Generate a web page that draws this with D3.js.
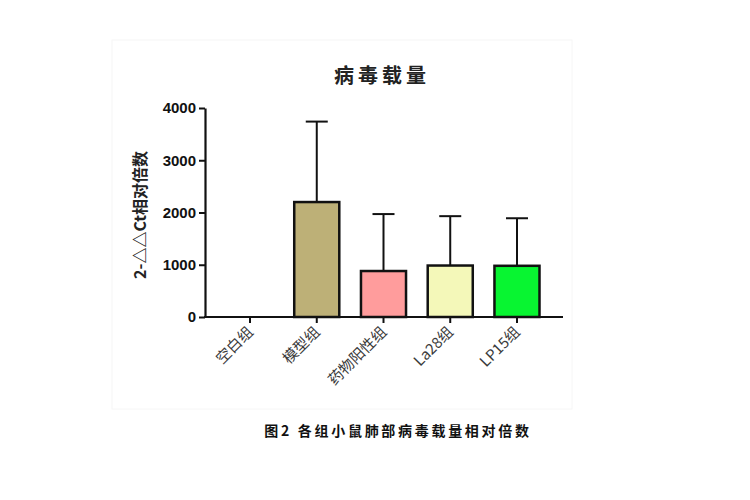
<!DOCTYPE html>
<html>
<head>
<meta charset="utf-8">
<script src="https://cdn.jsdelivr.net/npm/d3@7"></script>
<style>
  body { margin: 0; background: #fff; }
</style>
</head>
<body>
<div id="chart"></div>
<script>
// data
var groups = ["空白组", "模型组", "药物阳性组", "La28组", "LP15组"];
var means = [0, 2200, 880, 985, 980];
var upper = [0, 3740, 1970, 1930, 1890];
var colors = ["#ffffff", "#bdb077", "#ff9c9c", "#f4f8b9", "#08f531"];
var yTicks = [0, 1000, 2000, 3000, 4000];

var width = 750, height = 500;

var svg = d3.select("#chart").append("svg")
    .attr("width", width)
    .attr("height", height);

// faint frame of the original scanned figure
svg.append("rect")
    .attr("x", 112).attr("y", 40)
    .attr("width", 460).attr("height", 369)
    .attr("fill", "none")
    .attr("stroke", "#f6f6f6")
    .attr("stroke-width", 1);

var x = d3.scaleBand()
    .domain(groups)
    .range([227.5, 539.5])
    .paddingInner(0.325)
    .paddingOuter(0);

var y = d3.scaleLinear()
    .domain([0, 4000])
    .range([317, 108]);

var tickFont = "bold 15px 'Liberation Sans', Arial, sans-serif";

// y axis
var yAxis = svg.append("g")
    .attr("transform", "translate(205,0)")
    .call(d3.axisLeft(y).tickValues(yTicks).tickSize(6).tickSizeOuter(0).tickPadding(3).tickFormat(d3.format("d")));
yAxis.select(".domain").attr("stroke", "#111").attr("stroke-width", 2.2);
yAxis.selectAll(".tick line").attr("stroke", "#111").attr("stroke-width", 2);
yAxis.selectAll(".tick text")
    .style("font", tickFont)
    .attr("fill", "#111");

// bars
svg.selectAll(".bar")
    .data(groups)
    .enter().append("rect")
    .attr("class", "bar")
    .attr("x", function (d) { return x(d); })
    .attr("y", function (d, i) { return y(means[i]); })
    .attr("width", x.bandwidth())
    .attr("height", function (d, i) { return y(0) - y(means[i]); })
    .attr("fill", function (d, i) { return colors[i]; })
    .attr("stroke", function (d, i) { return means[i] > 0 ? "#111" : "none"; })
    .attr("stroke-width", 2.5);

// error bars (upper only)
var err = svg.selectAll(".err")
    .data(groups.filter(function (d, i) { return upper[i] > means[i]; }))
    .enter().append("g")
    .attr("class", "err");

err.append("line")
    .attr("x1", function (d) { return x(d) + x.bandwidth() / 2; })
    .attr("x2", function (d) { return x(d) + x.bandwidth() / 2; })
    .attr("y1", function (d) { return y(means[groups.indexOf(d)]); })
    .attr("y2", function (d) { return y(upper[groups.indexOf(d)]); })
    .attr("stroke", "#111")
    .attr("stroke-width", 2);

err.append("line")
    .attr("x1", function (d) { return x(d) + x.bandwidth() / 2 - 11; })
    .attr("x2", function (d) { return x(d) + x.bandwidth() / 2 + 11; })
    .attr("y1", function (d) { return y(upper[groups.indexOf(d)]); })
    .attr("y2", function (d) { return y(upper[groups.indexOf(d)]); })
    .attr("stroke", "#111")
    .attr("stroke-width", 2);

// x axis
var xAxis = svg.append("g")
    .attr("transform", "translate(0,317)");
xAxis.append("line")
    .attr("x1", 204).attr("x2", 563)
    .attr("stroke", "#111").attr("stroke-width", 2.2);
xAxis.selectAll(".xt")
    .data(groups)
    .enter().append("line")
    .attr("x1", function (d) { return x(d) + x.bandwidth() / 2; })
    .attr("x2", function (d) { return x(d) + x.bandwidth() / 2; })
    .attr("y1", 0).attr("y2", 6)
    .attr("stroke", "#111").attr("stroke-width", 2);
xAxis.selectAll(".xl")
    .data(groups)
    .enter().append("text")
    .attr("transform", function (d) {
        return "translate(" + (x(d) + x.bandwidth() / 2 + 4) + ",16) rotate(-45)";
    })
    .attr("text-anchor", "end")
    .style("font", "15px 'Noto Sans CJK SC', sans-serif")
    .attr("fill", "#3a3a3a")
    .text(function (d) { return d; });

// y label
svg.append("text")
    .attr("transform", "translate(146,215) rotate(-90)")
    .attr("text-anchor", "middle")
    .style("font", "bold 16px 'Noto Sans CJK SC', sans-serif")
    .attr("fill", "#222")
    .text("2-△△Ct相对倍数");

// title
svg.append("text")
    .attr("x", 382).attr("y", 83)
    .attr("text-anchor", "middle")
    .style("font", "bold 20px 'Noto Sans CJK SC', serif")
    .style("letter-spacing", "4px")
    .attr("fill", "#222")
    .text("病毒载量");

// caption
svg.append("text")
    .attr("x", 398).attr("y", 436)
    .attr("text-anchor", "middle")
    .style("font", "bold 14px 'Noto Sans CJK SC', serif")
    .style("letter-spacing", "2.7px")
    .attr("fill", "#111")
    .text("图2 各组小鼠肺部病毒载量相对倍数");
</script>
</body>
</html>
